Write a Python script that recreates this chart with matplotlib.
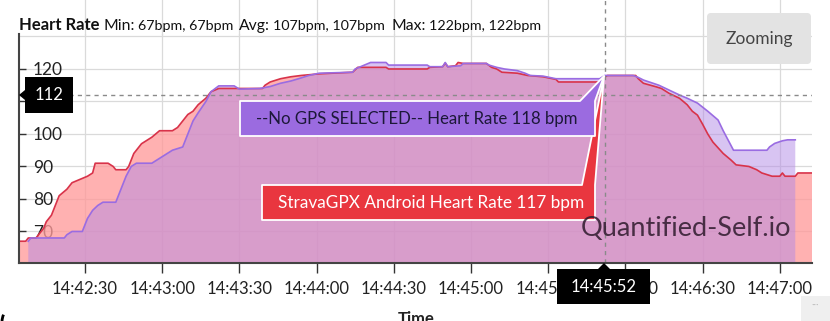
import pandas as pd
import matplotlib.pyplot as plt
from matplotlib.patches import Polygon, FancyBboxPatch, Rectangle, Arc

plt.rcParams['font.family'] = ['Lato', 'DejaVu Sans']

# heart rate samples, seconds after 14:42:00
base = pd.Timestamp('2020-01-01 14:42:00')
red_sec = [4, 7, 8, 11, 12, 14, 15, 17, 19, 20, 23, 25, 28, 31, 33, 34, 39, 41, 42, 46,
           47, 48, 49, 51, 52, 54, 56, 59, 64, 66, 68, 70, 72, 74, 77, 79, 82, 99, 100, 102,
           106, 110, 114, 121, 134, 136, 147, 148, 163, 164, 169, 170, 171, 174, 175, 177, 186, 188, 190, 192,
           198, 202, 208, 213, 214, 230, 231, 233, 244, 245, 247, 252, 254, 257, 261, 264, 266, 268, 270, 272,
           274, 278, 281, 283, 288, 291, 293, 297, 300, 301, 302, 306, 307, 313]
red_hr = [67, 67, 68, 68, 69, 71, 73, 75, 79, 81, 83, 85, 86, 87, 88, 91, 91, 90, 89, 89,
          90, 92, 94, 96, 97, 98, 99, 101, 101, 102, 104, 106, 107, 109, 111, 113, 114, 114, 115, 116,
          117, 117.6, 118, 118.5, 119, 120.5, 120.5, 120, 120, 120.5, 120.7, 121.8, 120.7, 121, 122, 121.7, 121.7, 120.5, 120, 119,
          118.7, 118, 117.6, 116.8, 116, 116, 117, 118, 118, 117, 115.6, 114.5, 114, 112.5, 111, 109, 107, 105.8, 103, 100,
          97.5, 94, 92, 90.5, 90, 89, 88, 87, 87, 88, 87, 87, 88, 88]
pur_sec = [8, 9, 22, 23, 25, 29, 30, 31, 33, 35, 37, 42, 44, 46, 48, 50, 56, 58, 61, 64,
           68, 70, 72, 74, 77, 79, 82, 88, 90, 98, 102, 106, 110, 113, 117, 121, 134, 135, 138, 141,
           147, 148, 163, 164, 169, 170, 171, 176, 177, 186, 187, 190, 193, 198, 201, 203, 208, 213, 230, 232,
           243, 245, 247, 250, 253, 257, 261, 264, 268, 272, 276, 278, 280, 282, 295, 296, 298, 301, 303, 306]
pur_hr = [67, 68, 68, 69, 70, 70, 72, 74, 76.5, 78, 79, 79, 83, 87, 90, 91, 91, 92, 93.5, 95,
          96, 100, 104, 106.5, 110, 113, 114.8, 114.8, 113.8, 114, 114.6, 115.6, 116.3, 117, 118, 118.7, 119, 120, 121, 122,
          122, 121.2, 121.2, 120.7, 120.7, 122, 120.7, 121, 121.7, 121.7, 121.2, 120.5, 120, 119.5, 118.7, 118, 117.8, 117, 117, 118,
          118, 117.4, 116.6, 115.8, 115, 113.5, 112, 111, 109.5, 107, 104.3, 101, 98, 95, 95, 96, 97.1, 97.9, 98.2, 98.2]

tick_labels = ['14:42:30', '14:43:00', '14:43:30', '14:44:00', '14:44:30',
               '14:45:00', '14:45:30', '14:46:00', '14:46:30', '14:47:00']
y_ticks = [70, 80, 90, 100, 110, 120]
y_labels = ['70', '80', '90', '100', '', '120']   # 110 sits under the cursor badge
cursor_time = '14:45:52'
cursor_hr = 112
pur_name = '--No GPS SELECTED-- Heart Rate'
red_name = 'StravaGPX Android Heart Rate'
pur_at_cursor = 118
red_at_cursor = 117
stat_min = [67, 67]
stat_avg = [107, 107]
stat_max = [122, 122]

red_t = base + pd.to_timedelta(red_sec, unit='s')
pur_t = base + pd.to_timedelta(pur_sec, unit='s')
tick_t = pd.to_datetime(['2020-01-01 ' + s for s in tick_labels])
cur_t = pd.Timestamp('2020-01-01 ' + cursor_time)

fig = plt.figure(figsize=(8.3, 3.21), dpi=100)
ax = fig.add_axes([19/830, 58/321, 793/830, 229/321])
y0, y1 = 60.3, 60.3 + 229/3.25
ax.set_ylim(y0, y1)
ax.set_xlim(base + pd.Timedelta(seconds=4.4), base + pd.Timedelta(seconds=312.5))

grid_c = '#dadada'
ax.set_axisbelow(True)
ax.grid(True, color=grid_c, lw=0.9)
ax.axhline(130, color=grid_c, lw=0.9, zorder=0)
for t in tick_t:
    ax.plot([t, t], [y1, y1 + 10.5], color=grid_c, lw=0.9, clip_on=False)

ax.fill_between(red_t, 0, red_hr, color='#ff9b9b', alpha=0.78, lw=0)
ax.plot(red_t, red_hr, color='#d8334a', lw=1.2)
ax.fill_between(pur_t, 0, pur_hr, color='#b38ae6', alpha=0.5, lw=0)
ax.plot(pur_t, pur_hr, color='#9a6ce2', lw=1.2)

# cursor
ax.plot([cur_t, cur_t], [y0, y1 + 10.5], color='#8a8a8a', lw=1, ls=(0, (3, 3)), clip_on=False)
ax.axhline(cursor_hr, color='#8a8a8a', lw=1, ls=(0, (3, 3)))

ax.set_xticks(tick_t)
ax.set_xticklabels(tick_labels)
ax.set_yticks(y_ticks)
ax.set_yticklabels(y_labels)
ax.tick_params(axis='x', direction='out', length=7, width=1, color='#333333',
               labelsize=12, pad=6, labelcolor='#222222')
ax.tick_params(axis='y', direction='in', length=5, width=1, color='#333333',
               labelsize=12.5, pad=-10, labelcolor='#222222')
for lbl in ax.get_yticklabels():
    lbl.set_ha('left')
for s in ['top', 'right']:
    ax.spines[s].set_visible(False)
for s in ['left', 'bottom']:
    ax.spines[s].set_color('#444444')
    ax.spines[s].set_linewidth(1.5)

# overlay in pixel coordinates for the chart furniture
ov = fig.add_axes([0, 0, 1, 1], zorder=5)
ov.set_xlim(0, 830)
ov.set_ylim(321, 0)
ov.axis('off')
ov.patch.set_alpha(0)

fig.canvas.draw()
rend = fig.canvas.get_renderer()
x = 19
parts = [('Heart Rate', 12, 'bold', 4),
         ('Min:', 11.3, 'normal', 3), (f'{stat_min[0]}bpm, {stat_min[1]}bpm', 10.3, 'normal', 6),
         ('Avg:', 11.3, 'normal', 3), (f'{stat_avg[0]}bpm, {stat_avg[1]}bpm', 10.3, 'normal', 6),
         ('Max:', 11.3, 'normal', 3), (f'{stat_max[0]}bpm, {stat_max[1]}bpm', 10.3, 'normal', 0)]
for txt, fs, fw, gap in parts:
    t = ov.text(x, 30, txt, fontsize=fs, fontweight=fw, color='#111111', va='baseline', ha='left')
    bb = t.get_window_extent(rend)
    x += bb.width + gap

# zoom button
ov.add_patch(FancyBboxPatch((707, 13), 104, 51, boxstyle='round,pad=0,rounding_size=4',
                            fc='#e3e3e3', ec='none'))
ov.text(759, 39, 'Zooming', fontsize=12.5, color='#444444', ha='center', va='center')

# watermark
ov.text(686, 228, 'Quantified-Self.io', fontsize=19.5, color='#2e1a2c', alpha=0.85,
        ha='center', va='center')

# red tooltip
ov.add_patch(Polygon([(262, 185), (582, 185), (604, 76), (595, 185), (595, 220), (262, 220)],
                     closed=True, fc='#e9363f', ec='white', lw=1.3, joinstyle='round'))
ov.text(431, 203, f'{red_name} {red_at_cursor} bpm', fontsize=12.4, color='white',
        ha='center', va='center')
# purple tooltip
ov.add_patch(Polygon([(240, 101), (580, 101), (604, 76), (595, 101), (595, 136), (240, 136)],
                     closed=True, fc='#9b6be0', ec='white', lw=1.3, joinstyle='round'))
ov.text(417, 119, f'{pur_name} {pur_at_cursor} bpm', fontsize=12.1, color='#1c1838',
        ha='center', va='center')

# value badge on y axis
ov.add_patch(Polygon([(25, 77), (73, 77), (73, 113), (25, 113), (25, 100), (19, 95), (25, 90)],
                     closed=True, fc='black', ec='none'))
ov.text(49, 95.5, str(cursor_hr), fontsize=12, color='white', ha='center', va='center')

# time badge on x axis
ov.add_patch(Polygon([(557, 269), (598, 269), (604, 263), (610, 269), (650, 269), (650, 304), (557, 304)],
                     closed=True, fc='black', ec='none'))
ov.text(603.5, 287, cursor_time, fontsize=12, color='white', ha='center', va='center')

ov.text(416, 311, 'Time', fontsize=12, fontweight='bold', color='#222222', ha='center', va='top')
ov.add_patch(Rectangle((801, 296), 29, 25, fc='#efefef', ec='none', zorder=0))
ov.text(815, 305, '···', fontsize=7, color='#bbbbbb', ha='center', va='center')
ov.add_patch(Arc((14, 322), 24, 30, theta1=150, theta2=215, color='black', lw=2))

fig.savefig('out.png', dpi=100)
